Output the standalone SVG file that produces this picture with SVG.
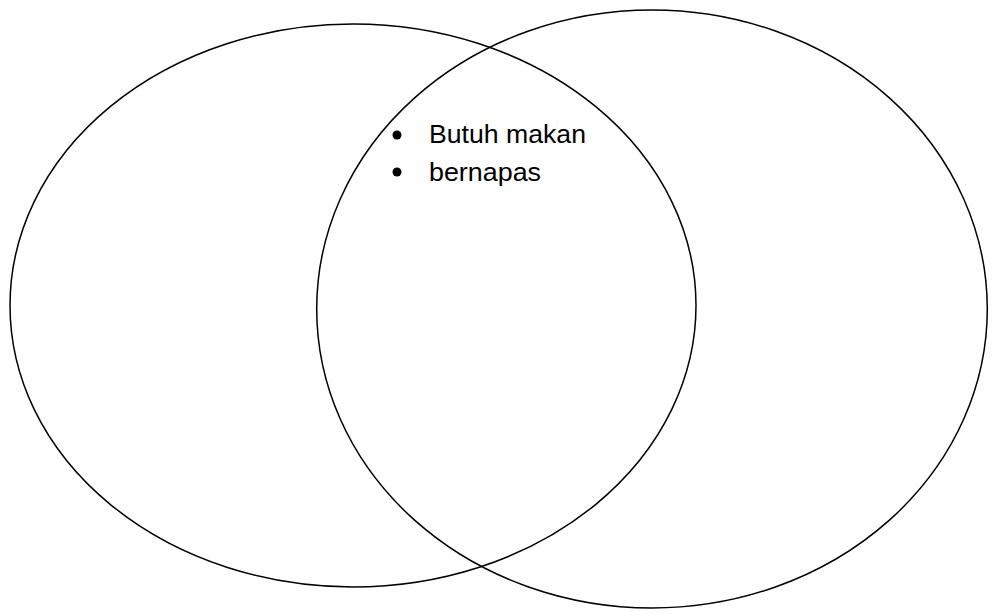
<svg xmlns="http://www.w3.org/2000/svg" width="995" height="616" viewBox="0 0 995 616">
<style>
.set{fill:none;stroke:#000;stroke-width:1.5}
.lbl{font-family:"Liberation Sans",Arial,sans-serif;font-size:26px;fill:#000}
</style>
<rect width="995" height="616" fill="#fff"/>
<g id="left-set"><ellipse class="set" cx="353" cy="305.5" rx="343" ry="281.5"/></g>
<g id="right-set"><ellipse class="set" cx="652" cy="309" rx="335.3" ry="299"/></g>
<g id="intersection-labels">
<circle cx="397" cy="135" r="4.5"/>
<text class="lbl" x="429" y="143" textLength="157" lengthAdjust="spacingAndGlyphs">Butuh makan</text>
<circle cx="397" cy="172" r="4.5"/>
<text class="lbl" x="429" y="181" textLength="112" lengthAdjust="spacingAndGlyphs">bernapas</text>
</g>
<g id="connectors"/>
</svg>
